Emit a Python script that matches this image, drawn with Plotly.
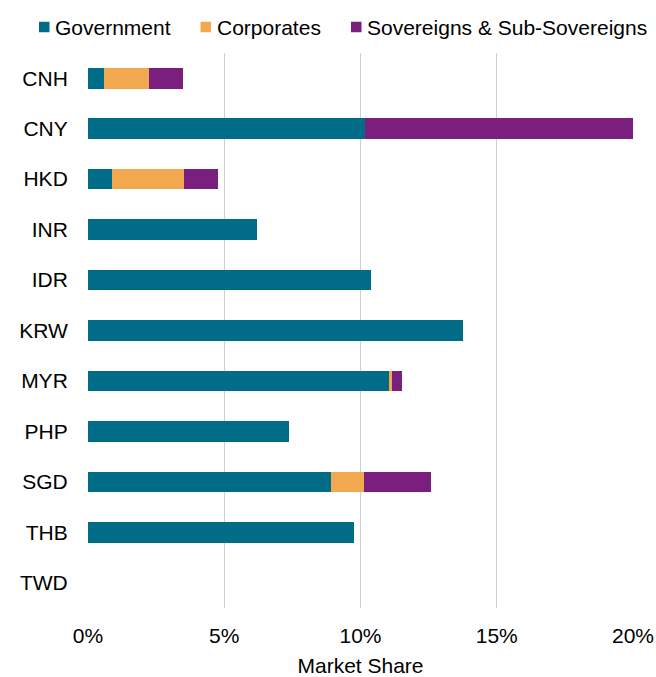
import plotly.graph_objects as go

# Market share by currency, split by issuer type (percent)
currencies = ["CNH", "CNY", "HKD", "INR", "IDR", "KRW", "MYR", "PHP", "SGD", "THB", "TWD"]
government = [0.59, 10.18, 0.88, 6.20, 10.37, 13.75, 11.05, 7.39, 8.92, 9.76, 0.0]
corporates = [1.66, 0.0, 2.64, 0.0, 0.0, 0.0, 0.11, 0.0, 1.21, 0.0, 0.0]
sovereigns = [1.25, 9.82, 1.25, 0.0, 0.0, 0.0, 0.37, 0.0, 2.45, 0.0, 0.0]

series_names = ["Government", "Corporates", "Sovereigns & Sub-Sovereigns"]
series_colors = ["#006C87", "#F1A84E", "#7A1F7E"]
x_ticks = [0, 5, 10, 15, 20]

FONT = "Liberation Sans, Arial, sans-serif"
FONT_SIZE = 21

W, H = 656, 677
M_L, M_R, M_T, M_B = 88, 23, 53, 69
PLOT_W = W - M_L - M_R
PLOT_H = H - M_T - M_B


def px_to_paper_x(px):
    return (px - M_L) / PLOT_W


def px_to_paper_y(py):
    return (H - M_B - py) / PLOT_H


fig = go.Figure()
for name, values, color in zip(series_names, [government, corporates, sovereigns], series_colors):
    fig.add_trace(go.Bar(
        y=currencies,
        x=values,
        name=name,
        orientation="h",
        marker=dict(color=color, line=dict(width=0)),
        showlegend=False,
    ))

# Legend row along the top: coloured square + label for each series
legend_square_left = [39, 200.5, 351]
legend_square_size = 10.5
legend_center_y = 27
shapes = []
annotations = []
for left, name, color in zip(legend_square_left, series_names, series_colors):
    shapes.append(dict(
        type="rect", xref="paper", yref="paper",
        x0=px_to_paper_x(left), x1=px_to_paper_x(left + legend_square_size),
        y0=px_to_paper_y(legend_center_y + legend_square_size / 2),
        y1=px_to_paper_y(legend_center_y - legend_square_size / 2),
        fillcolor=color, line=dict(width=0),
    ))
    annotations.append(dict(
        text=name, xref="paper", yref="paper",
        x=px_to_paper_x(left + legend_square_size + 3.5),
        y=px_to_paper_y(legend_center_y),
        xanchor="left", yanchor="middle", showarrow=False,
        font=dict(family=FONT, size=FONT_SIZE, color="#000000"),
    ))

fig.update_layout(
    barmode="stack",
    bargap=0.59,
    width=W,
    height=H,
    margin=dict(l=M_L, r=M_R, t=M_T, b=M_B),
    paper_bgcolor="white",
    plot_bgcolor="white",
    font=dict(family=FONT, size=FONT_SIZE, color="#000000"),
    showlegend=False,
    shapes=shapes,
    annotations=annotations,
    xaxis=dict(
        range=[0, 20],
        tickvals=x_ticks,
        ticktext=[f"{v}%" for v in x_ticks],
        showgrid=True,
        gridcolor="#D0D0D0",
        gridwidth=1.3,
        zeroline=False,
        showline=False,
        ticks="outside",
        ticklen=9,
        tickcolor="rgba(0,0,0,0)",
        title=dict(text="Market Share", standoff=16, font=dict(size=FONT_SIZE)),
        automargin=False,
        fixedrange=True,
    ),
    yaxis=dict(
        autorange="reversed",
        showgrid=False,
        zeroline=False,
        showline=False,
        ticks="outside",
        ticklen=15,
        tickcolor="rgba(0,0,0,0)",
        automargin=False,
        fixedrange=True,
    ),
)

fig.write_html("out.html")
